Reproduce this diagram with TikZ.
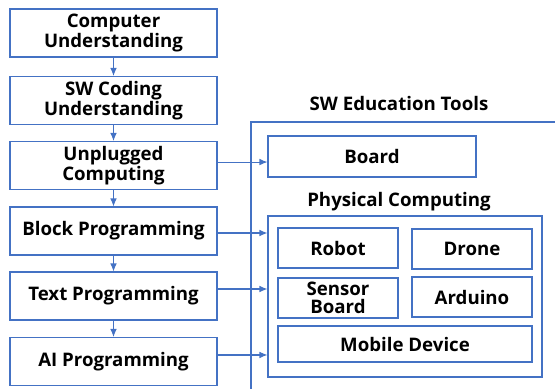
\documentclass[tikz,border=0pt]{standalone}
\usepackage{fontspec}
\setmainfont{Open Sans}
\usetikzlibrary{arrows.meta}
\definecolor{lineblue}{RGB}{68,114,196}
\tikzset{
  box/.style={draw=lineblue, line width=0.8pt, inner sep=0pt, align=center,
    font=\bfseries\fontsize{14}{13.75}\selectfont},
  stagebox/.style={box, minimum width=155.25pt, minimum height=36pt},
  toolbox/.style={box, minimum width=90pt, minimum height=30pt},
  arr/.style={draw=lineblue, line width=0.8pt, -{Latex[length=6pt,width=5pt]}},
  heading/.style={font=\bfseries\fontsize{14}{13.75}\selectfont}
}
\begin{document}
\begin{tikzpicture}[x=0.75pt,y=-0.75pt]
  \useasboundingbox (0,0) rectangle (555,389);

  % Learning stages
  \node[stagebox] (comp)  at (113.5,33)    {Computer\\Understanding};
  \node[stagebox] (code)  at (113.5,100.5) {SW Coding\\Understanding};
  \node[stagebox] (unplug) at (113.5,165.5) {Unplugged\\Computing};
  \node[stagebox] (block) at (113.5,231)   {Block Programming};
  \node[stagebox] (text)  at (113.5,296)   {Text Programming};
  \node[stagebox] (ai)    at (113.5,361.5) {AI Programming};

  \draw[arr] (comp) -- (code);
  \draw[arr] (code) -- (unplug);
  \draw[arr] (unplug) -- (block);
  \draw[arr] (block) -- (text);
  \draw[arr] (text) -- (ai);

  % SW education tools
  \node[heading] (tools) at (399,103) {SW Education Tools};
  \draw[lineblue, line width=0.8pt] (555,122) -- (251,122) -- (251,389);
  \node[box, minimum width=156pt, minimum height=30.75pt] (board) at (372,156.5) {Board};

  \node[heading] (physt) at (399,202) {Physical Computing};
  \node[box, minimum width=205.5pt, minimum height=120.75pt] (phys) at (405,296.5) {};
  \node[toolbox] (robot)  at (338,248) {Robot};
  \node[toolbox] (drone)  at (472,249) {Drone};
  \node[toolbox] (sensor) at (338,298) {Sensor\\Board};
  \node[toolbox] (ardu)   at (472,297) {Arduino};
  \node[box, minimum width=190.5pt, minimum height=27pt] (mobile) at (405,344) {Mobile Device};

  % Links to tools
  \draw[arr] ([yshift=2.6pt]unplug.east) -- ([yshift=2.6pt]unplug.east -| board.west);
  \draw[arr] ([yshift=-1.5pt]block.east) -- ([yshift=-1.5pt]block.east -| phys.west);
  \draw[arr] ([yshift=5.25pt]text.east) -- ([yshift=5.25pt]text.east -| phys.west);
  \draw[arr] ([yshift=4.9pt]ai.east) -- ([yshift=4.9pt]ai.east -| phys.west);
\end{tikzpicture}
\end{document}
